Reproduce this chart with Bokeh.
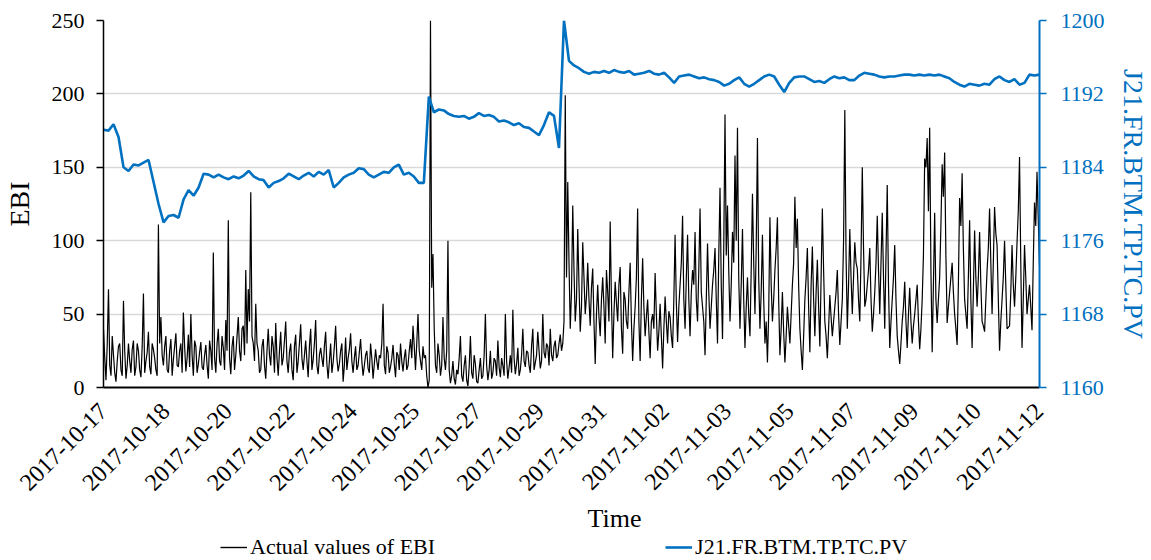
import numpy as np
from bokeh.plotting import figure
from bokeh.layouts import column
from bokeh.models import Range1d, LinearAxis, FixedTicker, Legend, LegendItem, Title
from bokeh.embed import file_html
from bokeh.resources import INLINE

# ---- data ----
x_labels = ["2017-10-17", "2017-10-18", "2017-10-20", "2017-10-22", "2017-10-24",
            "2017-10-25", "2017-10-27", "2017-10-29", "2017-10-31", "2017-11-02",
            "2017-11-03", "2017-11-05", "2017-11-07", "2017-11-09", "2017-11-10",
            "2017-11-12"]

# EBI samples (even samples)
ebi_a = [
    40, 5, 67, 8, 22, 4, 28, 12, 59, 6,
    30, 10, 32, 14, 25, 7, 64, 18, 38, 9,
    26, 12, 111, 48, 15, 35, 10, 33, 19, 37,
    14, 30, 51, 11, 36, 50, 8, 28, 16, 31,
    12, 29, 6, 25, 92, 10, 40, 15, 27, 46,
    114, 9, 35, 22, 48, 18, 42, 80, 67, 133,
    30, 57, 25, 12, 33, 6, 40, 15, 28, 44,
    8, 38, 20, 45, 10, 30, 5, 36, 18, 43,
    12, 32, 7, 40, 19, 46, 9, 27, 14, 38,
    6, 30, 17, 42, 11, 25, 4, 34, 20, 37,
    10, 28, 15, 33, 8, 22, 13, 30, 6, 26,
    12, 20, 57, 9, 24, 14, 29, 7, 22, 30,
    11, 26, 15, 33, 42, 12, 50, 18, 28, 22,
    0, 250, 91, 15, 30, 8, 48, 12, 100, 3,
    18, 2, 9, 35, 4, 22, 1, 35, 6, 16,
    3, 20, 8, 50, 5, 25, 10, 18, 32, 7,
    15, 50, 6, 22, 53, 9, 27, 12, 40, 14,
    24, 10, 40, 17, 38, 13, 50, 20, 28, 40,
    18, 32, 22, 36, 30, 199, 140, 40, 124, 45,
    108, 38, 99, 50, 85, 42, 81, 16, 70, 35,
    75, 30, 65, 113, 20, 72, 45, 82, 23, 60,
    40, 85, 18, 55, 122, 18, 88, 35, 60, 20,
    50, 78, 25, 57, 13, 62, 30, 48, 27, 104,
    31, 70, 117, 40, 104, 35, 80, 106, 45, 122,
    55, 22, 98, 40, 70, 95, 30, 136, 33, 186,
    124, 45, 106, 158, 177, 40, 108, 27, 75, 35,
    132, 50, 170, 40, 104, 30, 17, 116, 45, 80,
    116, 22, 65, 17, 55, 30, 70, 130, 115, 40,
    12, 60, 95, 24, 96, 35, 87, 28, 122, 45,
    20, 63, 35, 55, 80, 29, 60, 189, 40, 108,
    50, 99, 81, 45, 150, 55, 70, 95, 38, 65,
    117, 50, 119, 40, 138, 27, 60, 97, 35, 16,
    45, 72, 27, 68, 30, 50, 70, 26, 60, 156,
    170, 177, 24, 119, 44, 75, 152, 160, 44, 65,
    85, 50, 29, 129, 146, 60, 40, 114, 27, 107,
    55, 106, 45, 38, 80, 122, 50, 123, 97, 25,
    60, 100, 40, 42, 97, 55, 99, 157, 27, 97,
    50, 70, 39, 126, 147, 83,
]

# EBI samples (odd samples, between the even ones)
ebi_b = [
    20, 30, 15, 35, 10, 18, 30, 8, 25, 15,
    18, 26, 8, 30, 12, 28, 10, 24, 14, 30,
    20, 8, 30, 22, 28, 12, 25, 8, 28, 15,
    25, 10, 28, 20, 14, 22, 32, 10, 24, 14,
    22, 15, 32, 12, 20, 30, 18, 35, 12, 25,
    20, 28, 12, 35, 25, 40, 22, 30, 45, 35,
    18, 30, 10, 28, 15, 25, 22, 35, 10, 20,
    25, 15, 32, 18, 24, 12, 28, 10, 30, 20,
    22, 18, 28, 12, 30, 15, 22, 20, 28, 16,
    18, 10, 28, 20, 16, 30, 15, 12, 26, 18,
    20, 12, 24, 18, 15, 25, 10, 20, 16, 18,
    22, 30, 15, 28, 10, 20, 16, 24, 12, 18,
    20, 12, 25, 20, 28, 30, 25, 12, 20, 8,
    5, 68, 40, 10, 22, 15, 20, 25, 12, 8,
    6, 12, 20, 8, 15, 5, 14, 10, 22, 4,
    12, 6, 22, 15, 12, 6, 20, 8, 14, 20,
    8, 18, 14, 10, 20, 16, 8, 22, 18, 25,
    15, 28, 12, 22, 25, 18, 24, 30, 15, 22,
    28, 20, 30, 25, 45, 75, 85, 65, 80, 60,
    70, 55, 75, 62, 60, 68, 45, 50, 48, 60,
    55, 80, 45, 60, 50, 58, 70, 40, 65, 45,
    65, 45, 40, 75, 45, 60, 55, 48, 38, 45,
    40, 50, 38, 35, 40, 45, 52, 35, 60, 58,
    55, 85, 60, 75, 60, 65, 70, 60, 80, 65,
    45, 60, 65, 55, 80, 60, 90, 70, 95, 90,
    80, 70, 85, 100, 75, 70, 60, 55, 50, 80,
    85, 95, 75, 65, 60, 45, 50, 70, 60, 95,
    60, 40, 38, 35, 42, 50, 85, 95, 70, 25,
    35, 75, 55, 70, 60, 65, 55, 75, 80, 35,
    40, 48, 45, 65, 50, 45, 100, 90, 70, 75,
    75, 85, 60, 90, 95, 60, 80, 60, 50, 85,
    80, 85, 75, 90, 70, 45, 75, 60, 25, 30,
    55, 45, 50, 45, 42, 60, 45, 40, 90, 150,
    120, 80, 70, 60, 60, 110, 130, 90, 55, 75,
    65, 40, 70, 110, 95, 50, 75, 60, 65, 75,
    75, 70, 42, 60, 95, 85, 85, 105, 60, 45,
    75, 70, 41, 65, 70, 75, 120, 85, 60, 75,
    60, 55, 85, 110, 115,
]

pv = [
    1188.1, 1188.0, 1188.7, 1187.3, 1184.0, 1183.6, 1184.3, 1184.2, 1184.5, 1184.8,
    1182.4, 1180.0, 1178.0, 1178.7, 1178.8, 1178.5, 1180.5, 1181.5, 1180.9, 1181.8,
    1183.3, 1183.2, 1182.9, 1183.2, 1182.9, 1182.7, 1183.0, 1182.8, 1183.1, 1183.6,
    1183.0, 1182.7, 1182.6, 1181.8, 1182.3, 1182.5, 1182.8, 1183.3, 1183.0, 1182.7,
    1183.1, 1183.4, 1183.0, 1183.5, 1183.2, 1183.7, 1181.8, 1182.3, 1182.9, 1183.2,
    1183.4, 1183.9, 1183.8, 1183.2, 1182.9, 1183.2, 1183.5, 1183.4, 1184.0, 1184.3,
    1183.2, 1183.4, 1183.0, 1182.3, 1182.3, 1191.7, 1190.0, 1190.3, 1190.2, 1189.8,
    1189.6, 1189.5, 1189.6, 1189.3, 1189.5, 1189.9, 1189.6, 1189.7, 1189.5, 1189.0,
    1189.1, 1188.9, 1188.6, 1188.8, 1188.4, 1188.3, 1187.9, 1187.5, 1188.6, 1190.0,
    1189.6, 1186.1, 1200.0, 1195.6, 1195.1, 1194.8, 1194.4, 1194.2, 1194.4, 1194.3,
    1194.5, 1194.3, 1194.6, 1194.4, 1194.3, 1194.5, 1194.1, 1194.2, 1194.3, 1194.5,
    1194.2, 1194.1, 1194.3, 1193.8, 1193.2, 1193.9, 1194.0, 1194.1, 1193.9, 1193.7,
    1193.8, 1193.6, 1193.5, 1193.3, 1192.9, 1193.1, 1193.5, 1193.8, 1193.1, 1192.8,
    1193.1, 1193.5, 1193.9, 1194.1, 1193.9, 1193.0, 1192.2, 1193.2, 1193.8, 1193.9,
    1193.9, 1193.6, 1193.3, 1193.4, 1193.2, 1193.6, 1193.9, 1193.7, 1193.8, 1193.5,
    1193.5, 1194.0, 1194.3, 1194.2, 1194.1, 1193.9, 1193.8, 1193.9, 1193.9, 1194.0,
    1194.1, 1194.1, 1194.0, 1194.1, 1194.0, 1194.1, 1194.0, 1194.1, 1193.9, 1193.7,
    1193.3, 1193.0, 1192.8, 1193.1, 1193.0, 1192.9, 1193.1, 1193.0, 1193.6, 1193.9,
    1193.5, 1193.3, 1193.6, 1193.0, 1193.2, 1194.1, 1194.0, 1194.1,
]

ebi_ticks = [0, 50, 100, 150, 200, 250]
pv_ticks = [1160, 1168, 1176, 1184, 1192, 1200]
series_names = ["Actual values of EBI", "J21.FR.BTM.TP.TC.PV"]

# assemble the EBI series in time order (a, b, a, b, ..., a)
ebi = np.empty(len(ebi_a) + len(ebi_b))
ebi[0::2] = ebi_a
ebi[1::2] = ebi_b

n_int = 375
x_ebi = np.linspace(0, n_int, len(ebi))
x_pv = np.linspace(0, n_int, len(pv))
x_tick_pos = [int(round(k * n_int / (len(x_labels) - 1))) for k in range(len(x_labels))]

FONT = "Liberation Serif"
BLUE = "#0070C0"
W = 1151
H_MAIN = 534
H_LEG = 26
BL, BR = 103, 110

p = figure(width=W, height=H_MAIN, output_backend="svg", toolbar_location=None,
           x_range=Range1d(0, n_int), y_range=Range1d(0, 250),
           min_border_left=BL, min_border_right=BR, min_border_top=20,
           min_border_bottom=147)
p.outline_line_color = None
p.background_fill_color = "white"
p.border_fill_color = "white"
p.extra_y_ranges = {"pv": Range1d(1160, 1200)}

r1 = p.line(x_ebi, ebi, line_color="black", line_width=1.2)
r2 = p.line(x_pv, pv, line_color=BLUE, line_width=2.6, y_range_name="pv")

# grid
p.xgrid.visible = False
p.ygrid.ticker = FixedTicker(ticks=ebi_ticks)
p.ygrid.grid_line_color = "#d9d9d9"
p.ygrid.grid_line_width = 1.5

# x axis
xa = p.xaxis[0]
xa.ticker = FixedTicker(ticks=x_tick_pos)
xa.major_label_overrides = {t: lab for t, lab in zip(x_tick_pos, x_labels)}
xa.major_label_orientation = np.pi / 4
xa.major_label_text_font = FONT
xa.major_label_text_font_size = "24px"
xa.major_label_text_color = "black"
xa.major_tick_out = 0
xa.major_tick_in = 0
xa.minor_tick_out = 0
xa.minor_tick_in = 0
xa.axis_line_color = "black"
xa.axis_line_width = 2
xa.major_label_standoff = 20

# left axis
ya = p.yaxis[0]
ya.ticker = FixedTicker(ticks=ebi_ticks)
ya.axis_label = "EBI"
ya.axis_label_text_font = FONT
ya.axis_label_text_font_size = "28px"
ya.axis_label_text_font_style = "normal"
ya.axis_label_text_color = "black"
ya.axis_label_standoff = 14
ya.major_label_text_font = FONT
ya.major_label_text_font_size = "22px"
ya.major_label_text_color = "black"
ya.major_tick_out = 7
ya.major_tick_in = 0
ya.minor_tick_out = 0
ya.minor_tick_in = 0
ya.axis_line_color = "black"
ya.axis_line_width = 1.5
ya.major_tick_line_width = 1.5
ya.major_label_standoff = 12

# right axis
ra = LinearAxis(y_range_name="pv", ticker=FixedTicker(ticks=pv_ticks))
ra.axis_label = series_names[1]
ra.axis_label_text_font = FONT
ra.axis_label_text_font_size = "28px"
ra.axis_label_text_font_style = "normal"
ra.axis_label_text_color = BLUE
ra.axis_label_standoff = 10
ra.major_label_text_font = FONT
ra.major_label_text_font_size = "22px"
ra.major_label_text_color = BLUE
ra.major_tick_out = 7
ra.major_tick_in = 0
ra.minor_tick_out = 0
ra.minor_tick_in = 0
ra.axis_line_color = BLUE
ra.axis_line_width = 2
ra.major_tick_line_color = BLUE
ra.major_tick_line_width = 1.5
ra.major_label_standoff = 14
p.add_layout(ra, "right")

# x axis title
time_title = Title(text="Time", align="left", offset=484, standoff=2,
                   text_font=FONT, text_font_size="26px", text_font_style="normal",
                   text_color="black")
p.add_layout(time_title, "below")

# legend strip (series drawn far outside its view so only the legend shows)
lf = figure(width=W, height=H_LEG, output_backend="svg", toolbar_location=None,
            x_range=Range1d(0, n_int), y_range=Range1d(-20, -10),
            x_axis_location=None, y_axis_location=None,
            min_border_left=BL, min_border_right=BR, min_border_top=0,
            min_border_bottom=0)
lf.outline_line_color = None
lf.background_fill_color = "white"
lf.border_fill_color = "white"
lf.xgrid.visible = False
lf.ygrid.visible = False
d1 = lf.line(x_ebi, ebi, line_color="black", line_width=1.4)
d2 = lf.line(x_pv, pv, line_color=BLUE, line_width=2.6)
legend = Legend(items=[LegendItem(label=series_names[0], renderers=[d1]),
                       LegendItem(label=series_names[1], renderers=[d2])],
                orientation="horizontal", location="left",
                label_text_font=FONT, label_text_font_size="22px",
                label_text_color="black",
                glyph_width=27, glyph_height=22, label_standoff=3, spacing=230,
                padding=0, margin=117, border_line_color=None,
                background_fill_alpha=0)
lf.add_layout(legend)

layout = column(p, lf, spacing=0)
open("out.html", "w").write(file_html(layout, INLINE))
